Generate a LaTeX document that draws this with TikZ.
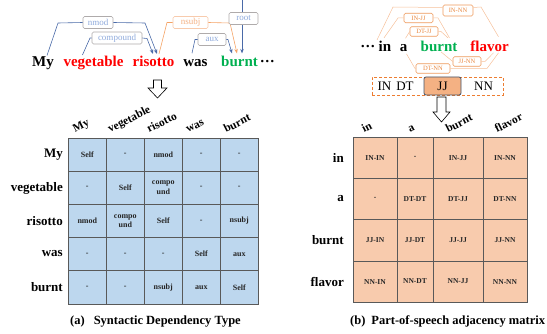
\documentclass[tikz,border=0pt]{standalone}
\usepackage{fontspec}
\setmainfont{Liberation Serif}
\usetikzlibrary{arrows.meta}
\definecolor{depblue}{HTML}{4A6AA8}
\definecolor{lblblue}{HTML}{8FAADC}
\definecolor{lblgray}{HTML}{AFABAB}
\definecolor{wred}{HTML}{FF0000}
\definecolor{wgreen}{HTML}{00B050}
\definecolor{arcorange}{HTML}{F4A264}
\definecolor{lblorange}{HTML}{F4B183}
\definecolor{lblorangeb}{HTML}{F8CBAD}
\definecolor{posline}{HTML}{F6C09A}
\definecolor{posbox}{HTML}{EE9A5C}
\definecolor{postext}{HTML}{E9873F}
\definecolor{dashorange}{HTML}{ED7D31}
\definecolor{cellblue}{HTML}{BDD7EE}
\definecolor{cellorange}{HTML}{F8CBAD}
\definecolor{jjfill}{HTML}{F4B183}
\definecolor{jjdraw}{HTML}{44546A}
\definecolor{gridc}{HTML}{595959}
\definecolor{celltext}{HTML}{262626}
\newcommand{\myfs}[1]{\fontsize{#1}{#1}\selectfont}
\newcommand{\myfsb}[2]{\fontsize{#1}{#2}\selectfont}
\begin{document}
\begin{tikzpicture}[x=1pt,y=-1pt,
  word/.style={font=\myfs{15}\bfseries, inner sep=1.5pt, anchor=base},
  lbl/.style={draw=lblgray, fill=white, rounded corners=1.5pt, font=\myfs{9}, text=lblblue,
    inner xsep=0pt, inner ysep=0pt, minimum height=12pt, line width=0.6pt},
  nlbl/.style={lbl, draw=lblorangeb, text=lblorange},
  dep/.style={draw=depblue, line width=0.6pt},
  deparrow/.style={dep, -{Stealth[length=4.5pt,width=3.5pt]}},
  nsl/.style={draw=arcorange, line width=0.6pt},
  nsarrow/.style={nsl, -{Stealth[length=4.5pt,width=3.5pt]}},
  poslbl/.style={draw=posbox, fill=white, rounded corners=1.5pt, font=\myfs{6.5}, text=postext,
    inner xsep=0pt, inner ysep=0pt, minimum width=29pt, minimum height=9.5pt, line width=0.6pt},
  posl/.style={draw=posline, line width=0.5pt},
  cellL/.style={draw=gridc, fill=cellblue, line width=0.7pt, minimum width=38pt, minimum height=33.2pt,
    font=\myfsb{8}{9.5}\bfseries, text=celltext, align=center, inner sep=0pt},
  cellR/.style={draw=gridc, fill=cellorange, line width=0.7pt, minimum height=41.3pt,
    font=\myfs{7.5}\bfseries, text=celltext, inner sep=0pt},
  rowlab/.style={font=\myfs{13}\bfseries, anchor=east, inner sep=0pt},
  collab/.style={font=\myfs{11.5}\bfseries, anchor=base west, inner sep=0pt, rotate=27},
  hollow/.style={draw=black, fill=white, line width=0.6pt},
  caption/.style={font=\myfs{12.5}\bfseries, anchor=base west, inner sep=0pt},
  poslab/.style={font=\myfs{13}, inner sep=0pt}
]
\useasboundingbox (0,0) rectangle (547,334);

% ---------- left: dependency sentence ----------
\node[word] (My) at (43,67) {My};
\node[word,text=wred] (vegetable) at (93.5,67) {vegetable};
\node[word,text=wred] (risotto) at (153.5,67) {risotto};
\node[word] (was) at (195.5,67) {was};
\node[word,text=wgreen] (burnt) at (239.5,67) {burnt};
\node[word] (dotsL) at (267.5,67) {···};

\node[lbl, minimum width=30pt] (nmod) at (98,22.5) {nmod};
\node[lbl, minimum width=50pt] (compound) at (117,38) {compound};
\node[nlbl, minimum width=35pt] (nsubj) at (190.5,22.5) {nsubj};
\node[lbl, minimum width=28pt] (aux) at (212,39.5) {aux};

\draw[dep] ([xshift=4pt]My.north) -- (58,23) -- (nmod.west);
\draw[deparrow] (nmod.east) -- (145,23) -- ([xshift=3.5pt,yshift=1pt]risotto.north);
\draw[dep] ([xshift=-11pt]vegetable.north) -- (90,38) -- (compound.west);
\draw[deparrow] (compound.east) -- (147,38.5) -- ([xshift=-0.5pt,yshift=1pt]risotto.north);
\draw[nsl] ([xshift=5.5pt,yshift=1pt]risotto.north) -- (167,22.5) -- (nsubj.west);
\draw[nsarrow] (nsubj.east) -- (230,23) -- ([xshift=-2.5pt,yshift=1.5pt]burnt.north);
\draw[dep] ([xshift=-3.5pt,yshift=5pt]was.north) -- (195,39.5) -- (aux.west);
\draw[deparrow] (aux.east) -- (228,39.5) -- ([xshift=-7.5pt,yshift=1.5pt]burnt.north);
\coordinate (rtop) at (242,0);
\draw[deparrow] (rtop) -- ([xshift=2.5pt,yshift=1.5pt]burnt.north);
\node[lbl, minimum width=29pt] (root) at (243.5,18.5) {root};

% hollow arrow left
\draw[hollow] (153.5,80) -- (161.5,80) -- (161.5,88) -- (167,88) -- (157.5,98) -- (148,88) -- (153.5,88) -- cycle;

% ---------- left matrix ----------
\foreach \r/\items in {
  1/{1/Self,2/-,3/nmod,4/-,5/-},
  2/{1/-,2/Self,3/{compo\\und},4/-,5/-},
  3/{1/nmod,2/{compo\\und},3/Self,4/-,5/nsubj},
  4/{1/-,2/-,3/-,4/Self,5/aux},
  5/{1/-,2/-,3/nsubj,4/aux,5/Self}}{
  \foreach \c/\t in \items {
    \node[cellL] (L\r\c) at ({68.3+38*(\c-0.5)},{138+33.2*(\r-0.5)}) {\t};
  }
}
\node[rowlab] (rl1) at (63,155) {My};
\node[rowlab] (rl2) at (63,188) {vegetable};
\node[rowlab] (rl3) at (63,221) {risotto};
\node[rowlab] (rl4) at (63,254) {was};
\node[rowlab] (rl5) at (63,287) {burnt};
\node[collab] (cl1) at (75,133) {My};
\node[collab] (cl2) at (110,133) {vegetable};
\node[collab] (cl3) at (149,133) {risotto};
\node[collab] (cl4) at (188,133) {was};
\node[collab] (cl5) at (226,133) {burnt};
\node[caption] (capA) at (70,324) {(a)\hspace{9pt}Syntactic Dependency Type};

% ---------- right: POS sentence ----------
\node[word] (dotsR) at (368,52) {···};
\node[word] (wIn) at (385,52) {in};
\node[word] (wA) at (403.5,52) {a};
\node[word,text=wgreen] (burntR) at (439,52) {burnt};
\node[word,text=wred] (flavor) at (489.5,52) {flavor};

\node[poslbl, minimum width=30pt, minimum height=11pt] (INNN) at (458,10.5) {IN-NN};
\node[poslbl] (INJJ) at (418.5,18) {IN-JJ};
\node[poslbl, minimum width=28pt] (DTJJ) at (424,31.5) {DT-JJ};
\node[poslbl, minimum width=28pt] (JJNN) at (467,61.5) {JJ-NN};
\node[poslbl, minimum width=34pt] (DTNN) at (433,68.5) {DT-NN};

\draw[posl] (wIn.north west) -- (393,7) -- ([yshift=3pt]INNN.west);
\draw[posl] ([yshift=3pt]INNN.east) -- (481,7) -- ([xshift=9pt,yshift=3pt]flavor.north);
\draw[posl] ([xshift=-1pt,yshift=2pt]wIn.north) -- (398,18) -- (INJJ.west);
\draw[posl] (INJJ.east) -- (438,18) -- ([xshift=10.5pt,yshift=2pt]burntR.north);
\draw[posl] ([xshift=2pt,yshift=5pt]wA.north) -- (DTJJ.west);
\draw[posl] (DTJJ.east) -- (441,31.5) -- ([xshift=9pt,yshift=2pt]burntR.north);
\draw[posl] ([xshift=2pt,yshift=2pt]burntR.south) -- (JJNN.west);
\draw[posl] (JJNN.east) -- (485,61.5) -- ([xshift=4pt,yshift=1pt]flavor.south);
\draw[posl] ([xshift=3pt]wA.south) -- (415,68.5) -- (DTNN.west);
\draw[posl] (DTNN.east) -- (487,68.5) -- ([xshift=9pt,yshift=1pt]flavor.south);

\node[draw=dashorange, dashed, dash pattern=on 3pt off 2pt, line width=0.8pt, minimum width=131pt, minimum height=18pt, inner sep=0pt] (posbar) at (437.5,86) {};
\node[poslab] (pIN) at (384.5,86.5) {IN};
\node[poslab] (pDT) at (405,86.5) {DT};
\node[draw=jjdraw, fill=jjfill, rounded corners=2pt, line width=0.8pt, minimum width=37pt, minimum height=18pt, inner sep=0pt, font=\myfs{13}] (pJJ) at (442.5,86) {JJ};
\node[poslab] (pNN) at (483.5,86.5) {NN};

% hollow arrow right
\draw[hollow] (437,97) -- (446,97) -- (446,112) -- (450,112) -- (441.5,122) -- (433,112) -- (437,112) -- cycle;

% ---------- right matrix ----------
\foreach \r/\y/\items in {
  1/157.65/{1/IN-IN,2/-,3/IN-JJ,4/IN-NN},
  2/198.95/{1/-,2/DT-DT,3/DT-JJ,4/DT-NN},
  3/240.25/{1/JJ-IN,2/JJ-DT,3/JJ-JJ,4/JJ-NN},
  4/281.55/{1/NN-IN,2/NN-DT,3/NN-JJ,4/NN-NN}}{
  \foreach \c/\t in \items {
    \ifcase\c\or\def\cx{375}\def\cw{44}\or\def\cx{415}\def\cw{36}\or\def\cx{458}\def\cw{50}\or\def\cx{505}\def\cw{44}\fi
    \node[cellR, minimum width=\cw pt] (R\r\c) at (\cx,\y) {\t};
  }
}
\node[rowlab] (rr1) at (344,158) {in};
\node[rowlab] (rr2) at (344,199) {a};
\node[rowlab] (rr3) at (344,240) {burnt};
\node[rowlab] (rr4) at (344,281.5) {flavor};
\node[collab] (cr1) at (364,133) {in};
\node[collab] (cr2) at (410,133) {a};
\node[collab] (cr3) at (448,133) {burnt};
\node[collab] (cr4) at (497,133) {flavor};
\node[caption] (capB) at (350,324) {(b)\hspace{6pt}Part-of-speech adjacency matrix};
\end{tikzpicture}
\end{document}
